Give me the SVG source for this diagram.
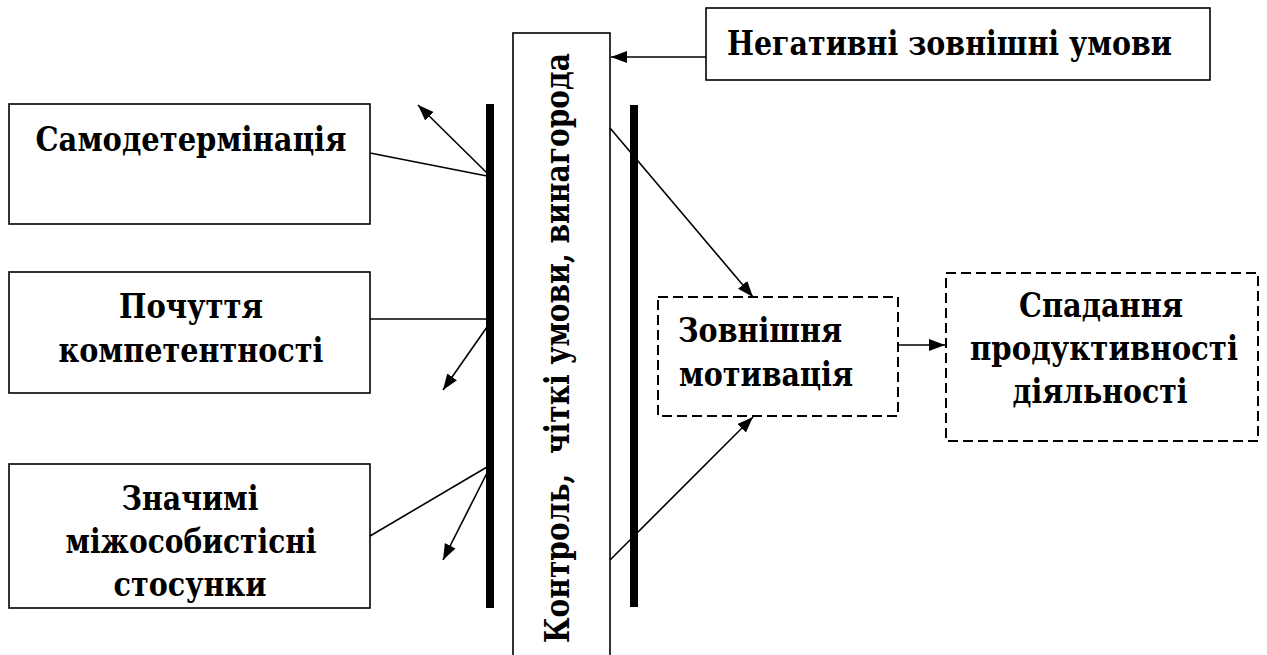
<svg xmlns="http://www.w3.org/2000/svg" width="1267" height="655" viewBox="0 0 1267 655">
<style>
.box{fill:#fff;stroke:#000;stroke-width:1.6}
.dbox{fill:#fff;stroke:#000;stroke-width:2;stroke-dasharray:10 5}
.bar{fill:#000}
.t{font-family:'DejaVu Serif Condensed','DejaVu Serif','Liberation Serif',serif;font-weight:bold;font-size:33px;fill:#000}
.c{text-anchor:middle}
.ln{stroke:#000;stroke-width:1.6;fill:none}
.ar{stroke:#000;stroke-width:1.6;fill:none;marker-end:url(#ah)}
</style>
<defs>
<marker id="ah" markerUnits="userSpaceOnUse" markerWidth="18" markerHeight="14" refX="16" refY="6" orient="auto">
<path d="M0,0 L16,6 L0,12 z" fill="#000"/>
</marker>
</defs>
<rect width="1267" height="655" fill="#fff"/>
<g id="self">
<rect class="box" x="9" y="104" width="361" height="120"/>
<text class="t c" x="191" y="151" textLength="311" lengthAdjust="spacingAndGlyphs">Самодетермінація</text>
</g>
<g id="competence">
<rect class="box" x="9" y="272" width="361" height="121"/>
<text class="t c" x="191" y="318" textLength="144" lengthAdjust="spacingAndGlyphs">Почуття</text>
<text class="t c" x="191" y="362" textLength="265" lengthAdjust="spacingAndGlyphs">компетентності</text>
</g>
<g id="relations">
<rect class="box" x="9" y="464" width="361" height="144"/>
<text class="t c" x="190" y="510" textLength="137" lengthAdjust="spacingAndGlyphs">Значимі</text>
<text class="t c" x="191" y="553" textLength="251" lengthAdjust="spacingAndGlyphs">міжособистісні</text>
<text class="t c" x="190" y="596" textLength="153" lengthAdjust="spacingAndGlyphs">стосунки</text>
</g>
<g id="bar-left"><rect class="bar" x="486" y="104" width="8" height="504"/></g>
<g id="bar-right"><rect class="bar" x="630" y="105" width="8" height="502"/></g>
<g id="control">
<rect class="box" x="513" y="33" width="97" height="640"/>
<text class="t c" transform="translate(569,348) rotate(-90)" x="0" y="0" textLength="590" lengthAdjust="spacingAndGlyphs" xml:space="preserve">Контроль,  чіткі умови, винагорода</text>
</g>
<g id="negative">
<rect class="box" x="706" y="8" width="504" height="72"/>
<text class="t" x="727" y="55" textLength="445" lengthAdjust="spacingAndGlyphs">Негативні зовнішні умови</text>
</g>
<g id="extrinsic">
<rect class="dbox" x="658" y="297" width="240" height="119"/>
<text class="t" x="678" y="342" textLength="164" lengthAdjust="spacingAndGlyphs">Зовнішня</text>
<text class="t" x="679" y="386" textLength="174" lengthAdjust="spacingAndGlyphs">мотивація</text>
</g>
<g id="decline">
<rect class="dbox" x="946" y="273" width="312" height="168"/>
<text class="t c" x="1101" y="317" textLength="164" lengthAdjust="spacingAndGlyphs">Спадання</text>
<text class="t c" x="1104" y="360" textLength="268" lengthAdjust="spacingAndGlyphs">продуктивності</text>
<text class="t c" x="1100" y="403" textLength="175" lengthAdjust="spacingAndGlyphs">діяльності</text>
</g>
<g id="connectors">
<line class="ln" x1="370" y1="153" x2="487" y2="176"/>
<line class="ln" x1="370" y1="319" x2="487" y2="319"/>
<line class="ln" x1="370" y1="536" x2="487" y2="467"/>
<line class="ar" x1="487" y1="173" x2="418" y2="105"/>
<line class="ar" x1="487" y1="327" x2="443" y2="390"/>
<line class="ar" x1="487" y1="473" x2="443" y2="560"/>
<line class="ar" x1="706" y1="57" x2="611" y2="57"/>
<line class="ar" x1="610" y1="128" x2="753" y2="297"/>
<line class="ar" x1="610" y1="560" x2="753" y2="417"/>
<line class="ar" x1="898" y1="345" x2="945" y2="345"/>
</g>
</svg>
